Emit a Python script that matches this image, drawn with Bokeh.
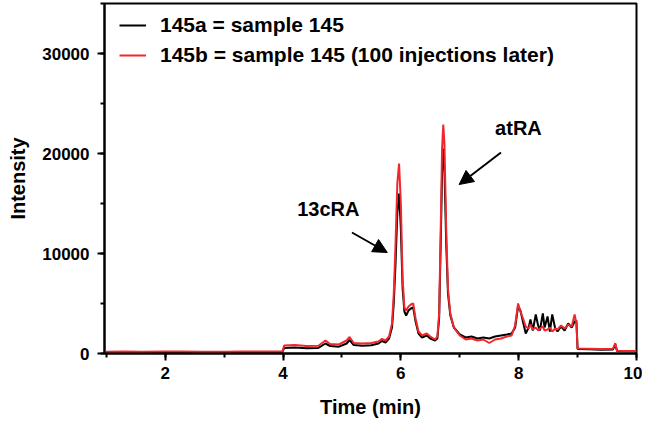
from bokeh.plotting import figure
from bokeh.models import (Range1d, SingleIntervalTicker, Legend, LegendItem,
                          Arrow, NormalHead, Label)
from bokeh.embed import file_html
from bokeh.resources import INLINE

time_min = [1.0, 1.3, 1.6, 2.0, 2.3, 2.6, 3.0, 3.3, 3.6, 3.99, 4.02, 4.2, 4.4, 4.6, 4.72,
            4.8, 4.95, 5.08, 5.13, 5.2, 5.35, 5.5, 5.62, 5.68, 5.74, 5.8, 5.85, 5.88,
            5.91, 5.94, 5.97, 6.0, 6.03, 6.06, 6.09, 6.13, 6.17, 6.21, 6.25, 6.3, 6.36,
            6.44, 6.5, 6.58, 6.62, 6.65, 6.68, 6.7, 6.72, 6.74, 6.77, 6.8, 6.84, 6.9,
            7.0, 7.1, 7.2, 7.3, 7.4, 7.5, 7.6, 7.7, 7.8, 7.88, 7.94, 7.99, 8.03, 8.08,
            8.12, 8.17, 8.2, 8.24, 8.29, 8.33, 8.36, 8.41, 8.44, 8.49, 8.53, 8.57, 8.62,
            8.66, 8.72, 8.78, 8.84, 8.9, 8.95, 8.98, 9.0, 9.2, 9.4, 9.6, 9.64, 9.67,
            9.8, 10.0]

sample_145a = [120, 150, 130, 140, 160, 130, 140, 150, 140, 160, 550, 600, 520, 560, 1000,
               750, 680, 1000, 1350, 850, 780, 820, 1000, 1250, 1100, 1500, 2600, 5000,
               9000, 14000, 16000, 12500, 6500, 4200, 3800, 4300, 4500, 4600, 3200, 2000, 1600,
               1800, 1500, 1300, 1500, 3500, 12000, 18000, 20500, 18500, 11000, 6000, 3800, 2600,
               1900, 1600, 1700, 1500, 1600, 1500, 1700, 1800, 1900, 2000, 2600, 4700, 4300, 3000,
               2000, 2600, 3400, 2300, 3900, 2800, 2300, 4000, 2600, 3700, 2200, 3900, 2500,
               2200, 2700, 2300, 3000, 2600, 3200, 3300, 450, 420, 380, 400, 900, 250,
               230, 220]

sample_145b = [180, 200, 170, 190, 200, 180, 180, 210, 200, 190, 800, 850, 750, 780, 1300,
               950, 900, 1300, 1650, 1050, 1000, 1050, 1200, 1470, 1300, 1700, 3000, 6000,
               11000, 17000, 19000, 15000, 7500, 4600, 4300, 4700, 4900, 5000, 3500, 2200, 1800,
               2000, 1700, 1400, 1700, 4000, 13500, 20500, 22900, 21000, 12500, 6500, 4000, 2600,
               1800, 1400, 1500, 1300, 1400, 1050, 1400, 1500, 1700, 1800, 2800, 5000, 4200, 3400,
               2700, 2500, 2900, 2400, 2600, 2300, 2500, 2700, 2300, 2400, 2600, 2200, 2500,
               2400, 2800, 2500, 2900, 2700, 3900, 3000, 500, 480, 450, 470, 1030, 280,
               260, 250]

series_labels = ["145a = sample 145", "145b = sample 145 (100 injections later)"]
peak_labels = ["13cRA", "atRA"]
x_lo, x_hi = 0.97, 10.0
y_lo, y_hi = 0, 35000

FONT = "Liberation Sans"

p = figure(frame_width=532, frame_height=350, output_backend="svg", toolbar_location=None,
           x_range=Range1d(x_lo, x_hi), y_range=Range1d(y_lo, y_hi),
           min_border_left=104, min_border_right=6, min_border_top=3, min_border_bottom=62)
p.outline_line_color = "black"
p.outline_line_width = 2
p.xgrid.grid_line_color = None
p.ygrid.grid_line_color = None

r_a = p.line(time_min, sample_145a, line_color="black", line_width=2)
r_b = p.line(time_min, sample_145b, line_color="#f0282d", line_width=2)

p.xaxis.ticker = SingleIntervalTicker(interval=2, num_minor_ticks=2)
p.yaxis.ticker = SingleIntervalTicker(interval=10000, num_minor_ticks=2)
for ax in (p.xaxis[0], p.yaxis[0]):
    ax.axis_line_color = "black"
    ax.axis_line_width = 2
    ax.major_tick_line_color = "black"
    ax.minor_tick_line_color = "black"
    ax.major_tick_line_width = 2
    ax.minor_tick_line_width = 2
    ax.major_tick_out = 7
    ax.major_tick_in = 0
    ax.minor_tick_out = 4
    ax.minor_tick_in = 0
    ax.major_label_text_font = FONT
    ax.major_label_text_font_style = "bold"
    ax.major_label_text_font_size = "17px"
    ax.major_label_text_color = "black"
    ax.axis_label_text_font = FONT
    ax.axis_label_text_font_style = "bold"
    ax.axis_label_text_font_size = "20px"
    ax.axis_label_text_color = "black"
p.xaxis.axis_label = "Time (min)"
p.yaxis.axis_label = "Intensity"
p.xaxis.major_label_standoff = 6
p.yaxis.major_label_standoff = 8
p.xaxis.axis_label_standoff = 14
p.yaxis.axis_label_standoff = 10

legend = Legend(items=[LegendItem(label=series_labels[0], renderers=[r_a]),
                       LegendItem(label=series_labels[1], renderers=[r_b])],
                location=(15, 286))
legend.border_line_color = None
legend.background_fill_alpha = 0
legend.padding = 2
legend.margin = 0
legend.spacing = 6
legend.glyph_width = 27
legend.glyph_height = 22
legend.label_height = 22
legend.label_standoff = 14
legend.label_text_font = FONT
legend.label_text_font_style = "bold"
legend.label_text_font_size = "21px"
legend.label_text_color = "black"
p.add_layout(legend)

head = dict(size=14, fill_color="black", line_color="black")
p.add_layout(Arrow(end=NormalHead(**head), x_start=5.17, y_start=12100, x_end=5.77, y_end=10100,
                   line_width=2, line_color="black"))
p.add_layout(Arrow(end=NormalHead(**head), x_start=7.70, y_start=20100, x_end=6.99, y_end=16900,
                   line_width=2, line_color="black"))

p.add_layout(Label(x=4.24, y=13400, text=peak_labels[0], text_font=FONT, text_font_style="bold",
                   text_font_size="20px", text_color="black"))
p.add_layout(Label(x=7.60, y=21500, text=peak_labels[1], text_font=FONT, text_font_style="bold",
                   text_font_size="20px", text_color="black"))

open("out.html", "w").write(file_html(p, INLINE))
